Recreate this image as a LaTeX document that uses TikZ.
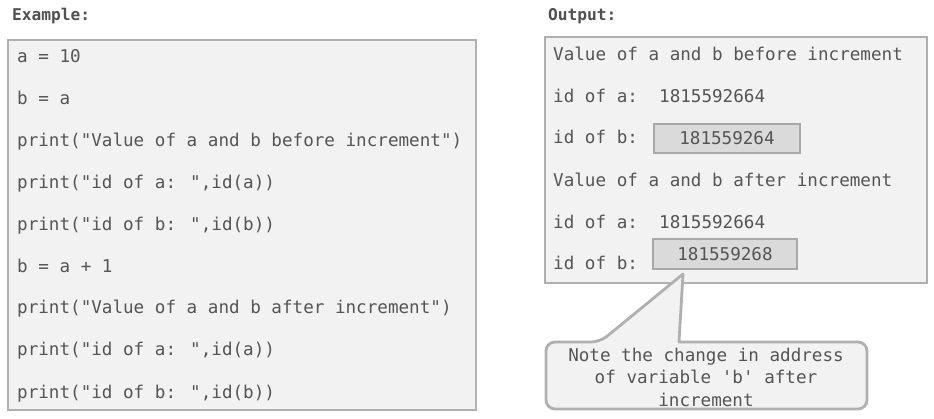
\documentclass[tikz,border=0pt]{standalone}
\usepackage{fontspec}
\newfontfamily\codefont{DejaVu Sans Mono}
\definecolor{txt}{HTML}{555555}
\definecolor{hdr}{HTML}{505050}
\definecolor{boxfill}{HTML}{F2F2F2}
\definecolor{boxline}{HTML}{B0B0B0}
\definecolor{hlfill}{HTML}{DADADA}
\definecolor{hlline}{HTML}{A8A8A8}
\begin{document}
\begin{tikzpicture}[x=1pt,y=-1pt,
  codeline/.style={anchor=west,inner sep=0pt,font=\codefont\fontsize{17.6}{22}\selectfont,text=txt,text height=12pt,text depth=4pt},
  header/.style={anchor=west,inner sep=0pt,font=\codefont\bfseries\fontsize{16.2}{20}\selectfont,text=hdr},
  panel/.style={draw=boxline,fill=boxfill,line width=2.8pt},
  hlbox/.style={draw=hlline,fill=hlfill,line width=1.2pt,inner sep=0pt,minimum width=146pt,minimum height=29pt,font=\codefont\fontsize{17.6}{22}\selectfont,text=txt},
  calloutshape/.style={draw=boxline,fill=boxfill,line width=2.8pt,line join=round}
]
\useasboundingbox (0,0) rectangle (934,418);
% headers
\node[header] (hex) at (12,16) {Example:};
\node[header] (hout) at (548,16) {Output:};
% left panel
\draw[panel] (8,40) rectangle (476,410);
\node[codeline] (c1) at (17,58.5) {a = 10};
\node[codeline] (c2) at (17,100.5) {b = a};
\node[codeline] (c3) at (17,142.5) {print("Value of a and b before increment")};
\node[codeline] (c4) at (17,184.5) {print("id of a: ",id(a))};
\node[codeline] (c5) at (17,226.5) {print("id of b: ",id(b))};
\node[codeline] (c6) at (17,268.5) {b = a + 1};
\node[codeline] (c7) at (17,309.5) {print("Value of a and b after increment")};
\node[codeline] (c8) at (17,351.5) {print("id of a: ",id(a))};
\node[codeline] (c9) at (17,394.5) {print("id of b: ",id(b))};
% right panel
\draw[panel] (545,37) rectangle (927,283);
\node[codeline] (o1) at (553,56.5) {Value of a and b before increment};
\node[codeline] (o2) at (553,98.5) {id of a:\ \ 1815592664};
\node[codeline] (o3) at (553,139.5) {id of b:};
\node[hlbox] (b1) at (727,138.5) {181559264};
\node[codeline] (o4) at (553,182.5) {Value of a and b after increment};
\node[codeline] (o5) at (553,224.5) {id of a:\ \ 1815592664};
\node[codeline] (o6) at (553,265.5) {id of b:};
\node[hlbox,minimum width=144pt,minimum height=30pt] (b2) at (725,254) {\raisebox{1pt}{181559268}};
% callout
\coordinate (tip) at (683,274);
\draw[calloutshape,rounded corners=9pt] (600,342) [sharp corners] -- (tip) -- (679,342) [rounded corners=9pt] -- (867,342) -- (867,409) -- (546,409) -- (546,342) -- cycle;
\node[codeline,anchor=center,align=center,text height=,text depth=,font=\codefont\fontsize{17.6}{22.5}\selectfont] (note) at (706,377) {Note the change in address\\of variable 'b' after\\increment};
\end{tikzpicture}
\end{document}
